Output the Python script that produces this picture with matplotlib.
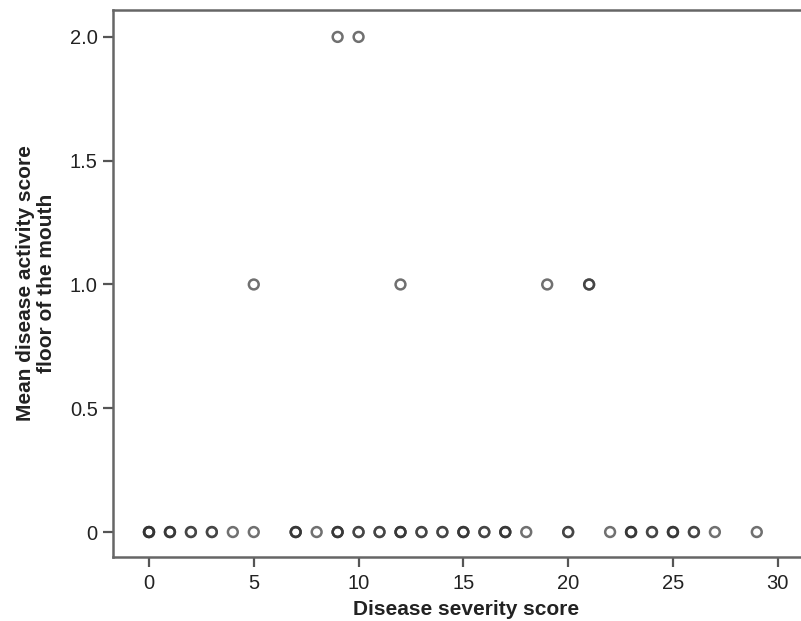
import matplotlib
matplotlib.use("Agg")
import matplotlib.pyplot as plt
import numpy as np

plt.rcParams['font.family'] = ['Liberation Sans', 'DejaVu Sans']

# Disease severity score (x) and mean disease activity score (y); repeats = overlapping cases
severity = [0, 0, 0, 0, 1, 1, 1, 2, 2, 3, 3, 4, 5,
            7, 7, 7, 8, 9, 9, 9, 10, 10, 11, 11, 12, 12, 12, 13, 13, 14, 14,
            15, 15, 15, 16, 16, 17, 17, 17, 18, 20, 20, 22, 23, 23, 23, 24, 24,
            25, 25, 25, 26, 26, 27, 29,
            5, 12, 19, 21, 21,
            9, 10]
activity = [0] * 55 + [1, 1, 1, 1, 1] + [2, 2]

xticks = [0, 5, 10, 15, 20, 25, 30]
yticks = [0, 0.5, 1.0, 1.5, 2.0]
ytick_labels = ['0', '0.5', '1.0', '1.5', '2.0']

fig = plt.figure(figsize=(8.01, 6.21), dpi=100)
ax = fig.add_axes([0.141, 0.103, 0.881, 0.881])

ax.scatter(severity, activity, s=50, facecolors='none',
           edgecolors=(0.2, 0.2, 0.2, 0.7), linewidths=1.8, zorder=3)

ax.set_xlim(-1.72, 31.95)
ax.set_ylim(-0.101, 2.109)
ax.set_xticks(xticks)
ax.set_yticks(yticks)
ax.set_yticklabels(ytick_labels)

ax.spines['right'].set_visible(False)
for side in ['left', 'bottom', 'top']:
    ax.spines[side].set_color('#666666')
    ax.spines[side].set_linewidth(1.8)

ax.tick_params(axis='both', direction='out', length=7, width=1.6, color='#555555',
               labelsize=14.5, labelcolor='#222222')
ax.tick_params(axis='x', pad=5)
ax.tick_params(axis='y', pad=4)

ax.set_xlabel('Disease severity score', fontsize=15, fontweight='bold', color='#222222', labelpad=5)
ax.set_ylabel('Mean disease activity score\nfloor of the mouth', fontsize=15,
              fontweight='bold', color='#222222', labelpad=10, linespacing=1.15)

fig.savefig('out.png', dpi=100)
